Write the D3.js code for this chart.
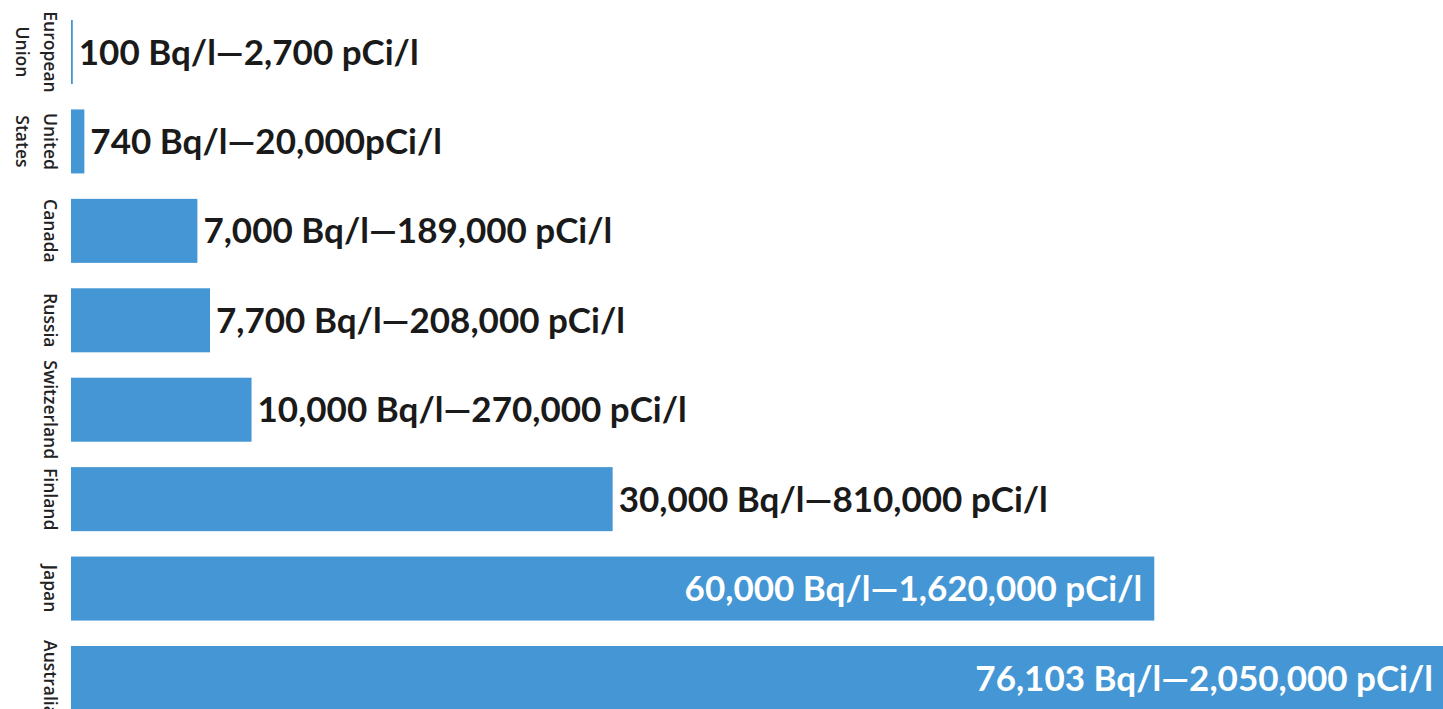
<!DOCTYPE html>
<html>
<head>
<meta charset="utf-8">
<script src="https://cdn.jsdelivr.net/npm/d3@7"></script>
<style>
  body { margin: 0; background: #fff; }
  .value { font-family: Lato, sans-serif; font-weight: 700; font-size: 35px; }
  .country { font-family: "Open Sans", sans-serif; font-weight: 600; font-size: 17.5px; fill: #222; }
</style>
</head>
<body>
<div id="chart"></div>
<script>
const countries = ["European Union", "United States", "Canada", "Russia", "Switzerland", "Finland", "Japan", "Australia"];
const bqValues = [100, 740, 7000, 7700, 10000, 30000, 60000, 76103];
const valueLabels = [
  "100 Bq/l\u20142,700 pCi/l",
  "740 Bq/l\u201420,000pCi/l",
  "7,000 Bq/l\u2014189,000 pCi/l",
  "7,700 Bq/l\u2014208,000 pCi/l",
  "10,000 Bq/l\u2014270,000 pCi/l",
  "30,000 Bq/l\u2014810,000 pCi/l",
  "60,000 Bq/l\u20141,620,000 pCi/l",
  "76,103 Bq/l\u20142,050,000 pCi/l"
];

const rows = countries.map((c, i) => ({ country: c, bq: bqValues[i], label: valueLabels[i] }));

const width = 1443;
const height = 709;
const marginLeft = 71;

const svg = d3.select("#chart")
  .append("svg")
    .attr("width", width)
    .attr("height", height);

const x = d3.scaleLinear()
  .domain([0, 76103])
  .range([marginLeft, 1445]);

const y = d3.scaleBand()
  .domain(countries)
  .range([7.3, 722.7])
  .paddingInner(0.284)
  .paddingOuter(0.142);

const barColor = "#4497d4";

// bars
svg.selectAll("rect")
  .data(rows)
  .join("rect")
    .attr("x", x(0))
    .attr("y", d => y(d.country))
    .attr("width", d => x(d.bq) - x(0))
    .attr("height", y.bandwidth())
    .attr("fill", barColor);

// value labels: outside for short bars, inside for long ones
const inside = d => x(d.bq) - x(0) > 900;

svg.selectAll(".value")
  .data(rows)
  .join("text")
    .attr("class", "value")
    .attr("x", d => inside(d) ? x(d.bq) - 12 : x(d.bq) + 6)
    .attr("y", d => y(d.country) + y.bandwidth() / 2)
    .attr("dy", "0.36em")
    .attr("text-anchor", d => inside(d) ? "end" : "start")
    .attr("fill", d => inside(d) ? "#fff" : "#1a1a1a")
    .text(d => d.label);

// country labels, rotated; extra lines stack to the left
const countryLabels = svg.selectAll(".country")
  .data(rows)
  .join("text")
    .attr("class", "country")
    .attr("text-anchor", "middle")
    .attr("transform", d => `translate(44,${y(d.country) + y.bandwidth() / 2}) rotate(90)`);

countryLabels.each(function(d) {
  const words = d.country.split(" ");
  const t = d3.select(this);
  words.forEach((w, i) => {
    t.append("tspan")
      .attr("x", 0)
      .attr("y", 0)
      .attr("dy", (i * 1.6) + "em")
      .text(w);
  });
});
</script>
</body>
</html>
